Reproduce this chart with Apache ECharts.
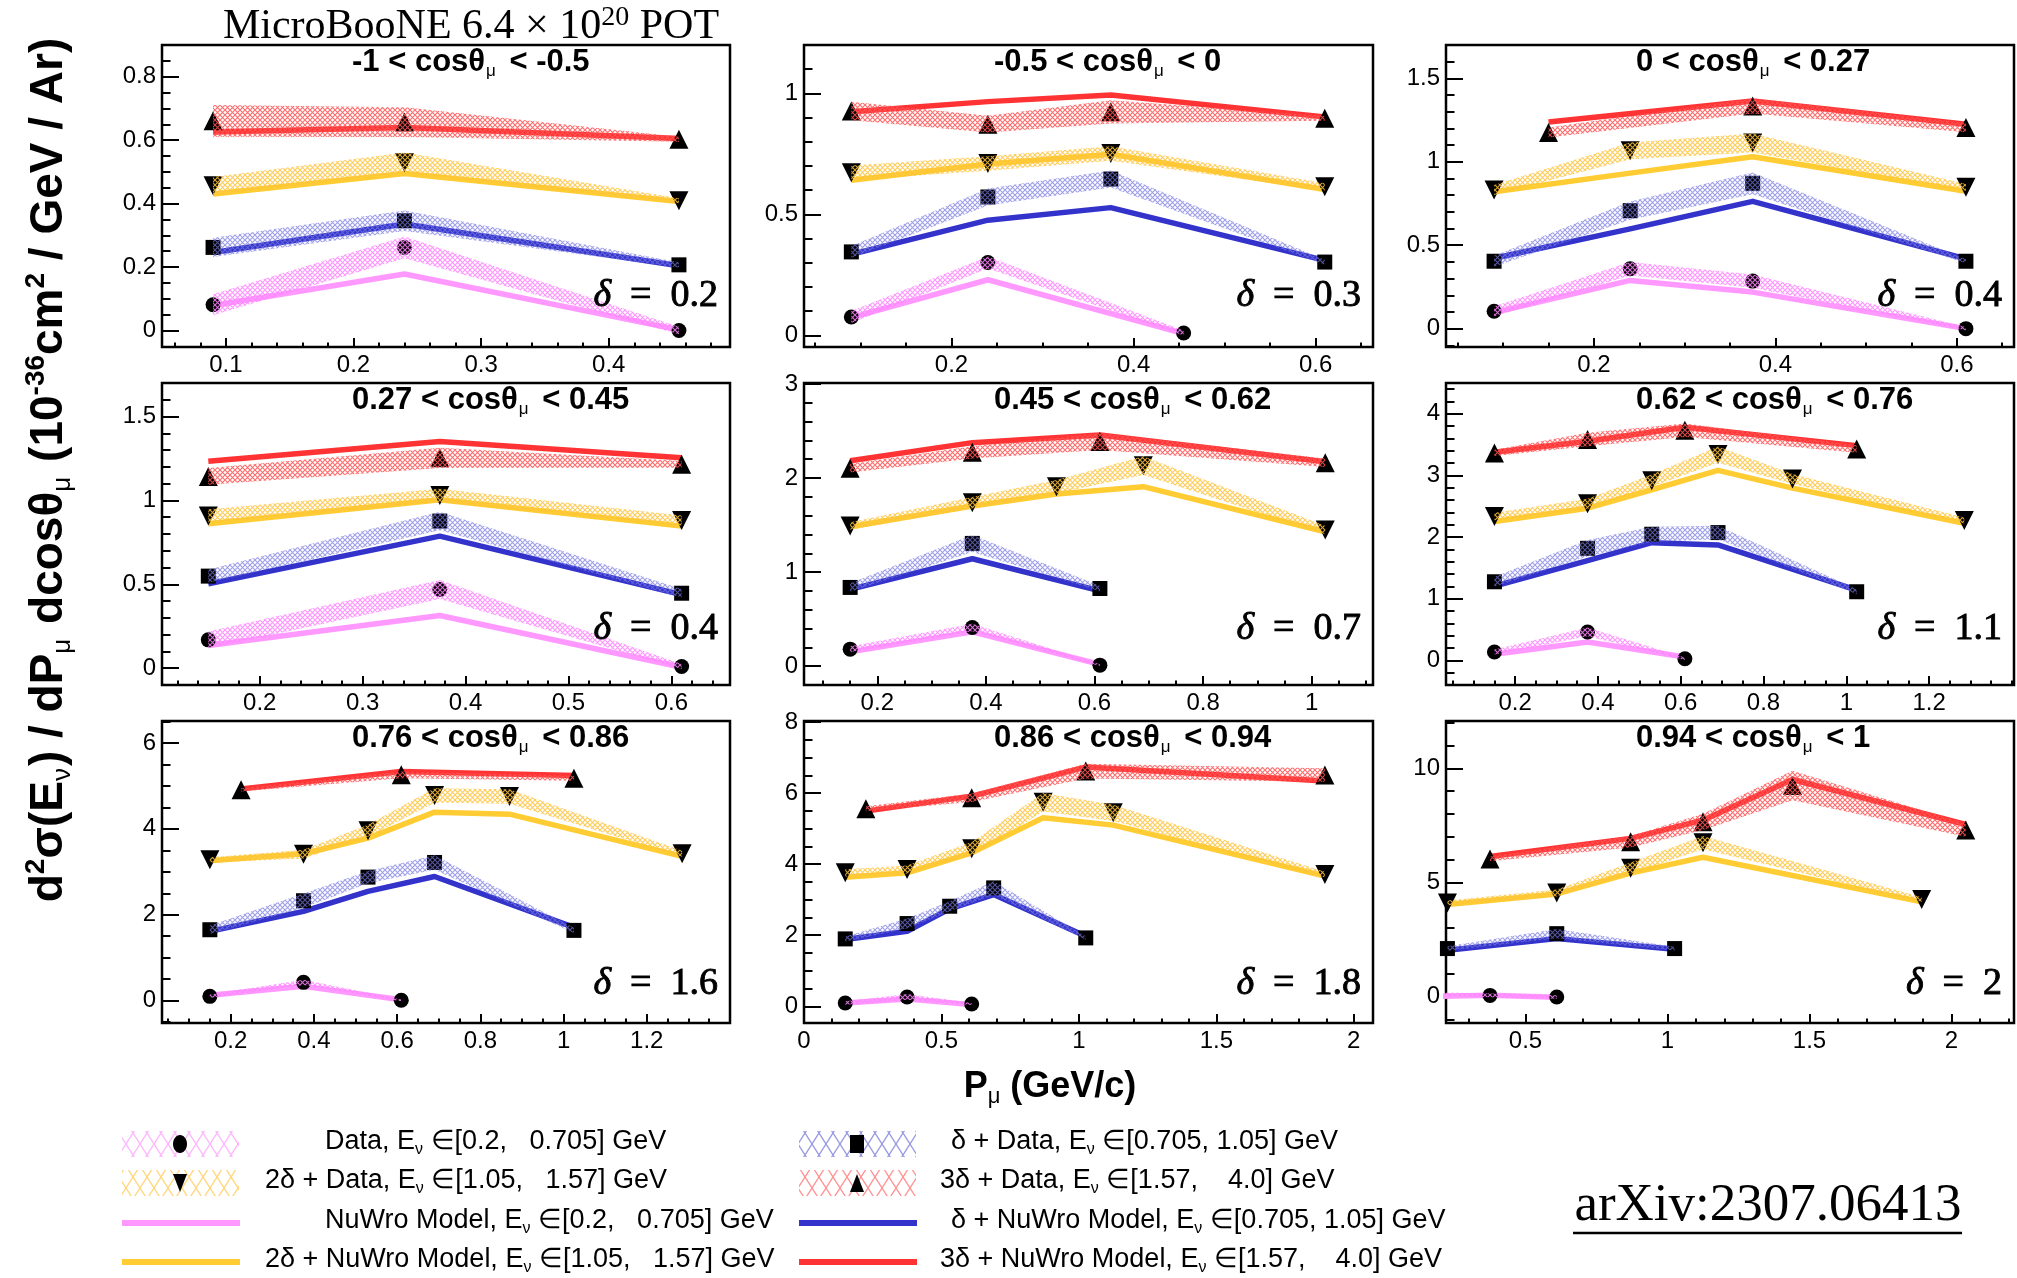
<!DOCTYPE html>
<html>
<head>
<meta charset="utf-8">
<script src="https://cdn.jsdelivr.net/npm/echarts@6/dist/echarts.min.js"></script>
<style>
  html, body { margin: 0; padding: 0; background: #fff; }
  #chart { width: 2017px; height: 1278px; }
</style>
</head>
<body>
<div id="chart"></div>
<script>
// ---------------------------------------------------------------------------
// Double-differential CC cross section in slices of cos(theta_mu),
// split by reconstructed neutrino energy. Each energy slice k is drawn
// shifted up by k * delta of its panel.
// Slices: [0.2, 0.705], [0.705, 1.05], [1.05, 1.57], [1.57, 4.0] GeV
// ---------------------------------------------------------------------------

const cosSlices = [['-1', '-0.5'], ['-0.5', '0'], ['0', '0.27'], ['0.27', '0.45'],
                   ['0.45', '0.62'], ['0.62', '0.76'], ['0.76', '0.86'], ['0.86', '0.94'], ['0.94', '1']];
const deltas = [0.2, 0.3, 0.4, 0.4, 0.7, 1.1, 1.6, 1.8, 2];
const deltaText = ['0.2', '0.3', '0.4', '0.4', '0.7', '1.1', '1.6', '1.8', '2'];

// -1 < cos < -0.5
const pmu1   = [[0.09, 0.24, 0.455], [0.09, 0.24, 0.455], [0.09, 0.24, 0.455], [0.09, 0.24, 0.455]];
const xsec1  = [[0.081, 0.262, 0.0], [0.062, 0.146, 0.007], [0.056, 0.129, 0.009], [0.061, 0.057, 0.003]];
const unc1   = [[0.033, 0.034, 0.012], [0.03, 0.032, 0.008], [0.028, 0.032, 0.008], [0.05, 0.047, 0.008]];
const nuwro1 = [[0.079, 0.178, 0.002], [0.046, 0.136, 0.004], [0.03, 0.095, 0.007], [0.026, 0.04, 0.005]];

// -0.5 < cos < 0
const pmu2   = [[0.09, 0.24, 0.455], [0.09, 0.24, 0.375, 0.61], [0.09, 0.24, 0.375, 0.61], [0.09, 0.24, 0.375, 0.61]];
const xsec2  = [[0.076, 0.301, 0.01], [0.045, 0.272, 0.346, 0.003], [0.072, 0.11, 0.152, 0.014], [0.027, -0.027, 0.024, -0.003]];
const unc2   = [[0.025, 0.025, 0.01], [0.024, 0.035, 0.035, 0.01], [0.03, 0.03, 0.03, 0.015], [0.038, 0.035, 0.048, 0.01]];
const nuwro2 = [[0.073, 0.23, 0.007], [0.035, 0.176, 0.228, 0.01], [0.041, 0.108, 0.149, 0.003], [0.024, 0.066, 0.093, 0.003]];

// 0 < cos < 0.27
const pmu3   = [[0.09, 0.24, 0.375, 0.61], [0.09, 0.24, 0.375, 0.61], [0.09, 0.24, 0.375, 0.61], [0.15, 0.375, 0.61]];
const xsec3  = [[0.104, 0.359, 0.285, 0.0], [0.004, 0.307, 0.471, 0.004], [0.031, 0.266, 0.312, 0.047], [-0.025, 0.135, 0.005]];
const unc3   = [[0.03, 0.04, 0.04, 0.01], [0.033, 0.055, 0.065, 0.012], [0.03, 0.05, 0.057, 0.02], [0.03, 0.045, 0.028]];
const nuwro3 = [[0.096, 0.289, 0.219, 0.0], [0.022, 0.198, 0.363, 0.018], [0.021, 0.132, 0.23, 0.023], [0.039, 0.165, 0.025]];

// 0.27 < cos < 0.45
const pmu4   = [[0.15, 0.375, 0.61], [0.15, 0.375, 0.61], [0.15, 0.375, 0.61], [0.15, 0.375, 0.61]];
const xsec4  = [[0.169, 0.469, 0.01], [0.149, 0.477, 0.047], [0.107, 0.23, 0.081], [-0.057, 0.054, 0.015]];
const unc4   = [[0.05, 0.057, 0.015], [0.04, 0.055, 0.025], [0.04, 0.04, 0.03], [0.05, 0.06, 0.02]];
const nuwro4 = [[0.135, 0.314, 0.006], [0.103, 0.387, 0.039], [0.061, 0.204, 0.047], [0.033, 0.152, 0.054]];

// 0.45 < cos < 0.62
const pmu5   = [[0.15, 0.375, 0.61], [0.15, 0.375, 0.61], [0.15, 0.375, 0.53, 0.69, 1.025], [0.15, 0.375, 0.61, 1.025]];
const xsec5  = [[0.181, 0.411, 0.011], [0.137, 0.605, 0.126], [0.089, 0.338, 0.508, 0.731, 0.047], [0.003, 0.173, 0.287, 0.063]];
const unc5   = [[0.03, 0.04, 0.01], [0.045, 0.09, 0.03], [0.04, 0.06, 0.07, 0.1, 0.045], [0.045, 0.065, 0.09, 0.045]];
const nuwro5 = [[0.152, 0.365, 0.02], [0.116, 0.442, 0.101], [0.082, 0.302, 0.43, 0.508, 0.029], [0.084, 0.276, 0.357, 0.074]];

// 0.62 < cos < 0.76
const pmu6   = [[0.15, 0.375, 0.61], [0.15, 0.375, 0.53, 0.69, 1.025], [0.15, 0.375, 0.53, 0.69, 0.87, 1.285], [0.15, 0.375, 0.61, 1.025]];
const xsec6  = [[0.136, 0.461, 0.027], [0.175, 0.718, 0.946, 0.973, 0.013], [0.134, 0.34, 0.715, 1.138, 0.742, 0.069], [0.065, 0.282, 0.434, 0.13]];
const unc6   = [[0.04, 0.07, 0.02], [0.08, 0.135, 0.12, 0.11, 0.04], [0.06, 0.08, 0.1, 0.13, 0.08, 0.05], [0.05, 0.11, 0.11, 0.06]];
const nuwro6 = [[0.098, 0.299, 0.054], [0.105, 0.517, 0.81, 0.772, 0.04], [0.052, 0.269, 0.568, 0.883, 0.595, 0.025], [0.076, 0.255, 0.483, 0.184]];

// 0.76 < cos < 0.86
const pmu7   = [[0.15, 0.375, 0.61], [0.15, 0.375, 0.53, 0.69, 1.025], [0.15, 0.375, 0.53, 0.69, 0.87, 1.285], [0.225, 0.61, 1.025]];
const xsec7  = [[0.101, 0.426, 0.008], [0.051, 0.726, 1.276, 1.617, 0.036], [0.079, 0.211, 0.753, 1.575, 1.552, 0.219], [0.107, 0.456, 0.378]];
const unc7   = [[0.04, 0.06, 0.02], [0.1, 0.17, 0.14, 0.17, 0.06], [0.06, 0.1, 0.14, 0.17, 0.17, 0.07], [0.04, 0.08, 0.06]];
const nuwro7 = [[0.124, 0.333, 0.023], [0.012, 0.478, 0.943, 1.291, 0.105], [0.056, 0.219, 0.583, 1.188, 1.141, 0.157], [0.13, 0.533, 0.44]];

// 0.86 < cos < 0.94
const pmu8   = [[0.15, 0.375, 0.61], [0.15, 0.375, 0.53, 0.69, 1.025], [0.15, 0.375, 0.61, 0.87, 1.125, 1.895], [0.225, 0.61, 1.025, 1.895]];
const xsec8  = [[0.094, 0.263, 0.066], [0.097, 0.529, 1.017, 1.533, 0.125], [0.156, 0.25, 0.832, 2.146, 1.846, 0.109], [0.159, 0.469, 1.22, 1.107]];
const unc8   = [[0.05, 0.08, 0.03], [0.07, 0.14, 0.14, 0.19, 0.05], [0.1, 0.11, 0.19, 0.26, 0.23, 0.08], [0.07, 0.12, 0.21, 0.19]];
const nuwro8 = [[0.094, 0.207, 0.047], [0.078, 0.313, 0.942, 1.346, 0.172], [0.034, 0.156, 0.719, 1.705, 1.499, 0.062], [0.093, 0.515, 1.332, 0.938]];

// 0.94 < cos < 1
const pmu9   = [[0.15, 0.375, 0.61], [0.225, 0.61, 1.025], [0.225, 0.61, 0.87, 1.125, 1.895], [0.375, 0.87, 1.125, 1.44, 2.05]];
const xsec9  = [[0.1, 0.05, -0.02], [0.101, 0.754, 0.101], [0.101, 0.536, 1.623, 2.739, 0.246], [0.029, 0.783, 1.652, 3.246, 1.29]];
const unc9   = [[0.08, 0.08, 0.08], [0.1, 0.2, 0.08], [0.1, 0.15, 0.25, 0.29, 0.1], [0.1, 0.25, 0.36, 0.65, 0.29]];
const nuwro9 = [[0.0, 0.06, -0.03], [0.029, 0.536, 0.072], [0.029, 0.493, 1.406, 2.101, 0.145], [0.13, 0.928, 1.725, 3.507, 1.536]];

const pmu   = [pmu1, pmu2, pmu3, pmu4, pmu5, pmu6, pmu7, pmu8, pmu9];
const xsec  = [xsec1, xsec2, xsec3, xsec4, xsec5, xsec6, xsec7, xsec8, xsec9];
const unc   = [unc1, unc2, unc3, unc4, unc5, unc6, unc7, unc8, unc9];
const nuwro = [nuwro1, nuwro2, nuwro3, nuwro4, nuwro5, nuwro6, nuwro7, nuwro8, nuwro9];

// axis extents and labelled ticks
const xRange = [[0.05, 0.495], [0.038, 0.663], [0.037, 0.663], [0.105, 0.657], [0.065, 1.113],
                [0.033, 1.405], [0.035, 1.4], [0, 2.07], [0.22, 2.22]];
const yRange = [[-0.052, 0.9], [-0.048, 1.2], [-0.11, 1.7], [-0.1, 1.7], [-0.2, 3.01],
                [-0.4, 4.5], [-0.52, 6.51], [-0.47, 8.03], [-1.16, 12.07]];
const xTickLabels = [[0.1, 0.2, 0.3, 0.4], [0.2, 0.4, 0.6], [0.2, 0.4, 0.6], [0.2, 0.3, 0.4, 0.5, 0.6],
                     [0.2, 0.4, 0.6, 0.8, 1], [0.2, 0.4, 0.6, 0.8, 1, 1.2], [0.2, 0.4, 0.6, 0.8, 1, 1.2],
                     [0, 0.5, 1, 1.5, 2], [0.5, 1, 1.5, 2]];
const yTickLabels = [[0, 0.2, 0.4, 0.6, 0.8], [0, 0.5, 1], [0, 0.5, 1, 1.5], [0, 0.5, 1, 1.5],
                     [0, 1, 2, 3], [0, 1, 2, 3, 4], [0, 2, 4, 6], [0, 2, 4, 6, 8], [0, 5, 10]];
const xMinorStep = [0.02, 0.05, 0.05, 0.02, 0.05, 0.05, 0.05, 0.1, 0.1];
const yMinorStep = [0.05, 0.1, 0.1, 0.1, 0.2, 0.2, 0.5, 0.5, 1];

const legendRows = [
  ['Data, E', ' ∈[0.2,   0.705] GeV', 'δ + Data, E', ' ∈[0.705, 1.05] GeV'],
  ['2δ + Data, E', ' ∈[1.05,   1.57] GeV', '3δ + Data, E', ' ∈[1.57,    4.0] GeV'],
  ['NuWro Model, E', ' ∈[0.2,   0.705] GeV', 'δ + NuWro Model, E', ' ∈[0.705, 1.05] GeV'],
  ['2δ + NuWro Model, E', ' ∈[1.05,   1.57] GeV', '3δ + NuWro Model, E', ' ∈[1.57,    4.0] GeV']
];

// ---------------------------------------------------------------------------
// styling
// ---------------------------------------------------------------------------
const SANS = '"Liberation Sans", Arial, Helvetica, sans-serif';
const SERIF = '"Liberation Serif", "Times New Roman", serif';
const lineColors = ['#FF99FF', '#3333CC', '#FFCC33', '#FF3333'];
const hatchColors = ['rgba(255,130,255,0.85)', 'rgba(120,120,225,0.7)', 'rgba(255,195,60,0.85)', 'rgba(255,85,85,0.85)'];
const legendHatch = ['rgba(255,150,255,0.7)', 'rgba(110,110,215,0.7)', 'rgba(255,200,80,0.75)', 'rgba(255,100,100,0.7)'];
const markerSymbol = ['circle', 'rect', 'triangle', 'triangle'];
const markerRotate = [0, 0, 180, 0];
const markerSize = [15, 15, 19, 19];

const colLeft = [162, 804, 1446];
const colWidth = [568, 569, 568];
const rowTop = [45, 383, 721];
const rowHeight = 302;
const deltaY = [296, 629, 984];

function crossHatch(color, w, h, lw) {
  const c = document.createElement('canvas');
  c.width = w; c.height = h;
  const g = c.getContext('2d');
  g.strokeStyle = color;
  g.lineWidth = lw;
  g.beginPath();
  g.moveTo(0, 0); g.lineTo(w, h);
  g.moveTo(w, 0); g.lineTo(0, h);
  g.stroke();
  return c;
}
const bandFill = hatchColors.map(c => ({ image: crossHatch(c, 5, 5, 1.15), repeat: 'repeat' }));
const legendFill = legendHatch.map(c => ({ image: crossHatch(c, 14, 22, 1.3), repeat: 'repeat' }));

function ticksBetween(lo, hi, step) {
  const out = [];
  const k0 = Math.ceil(lo / step - 1e-9), k1 = Math.floor(hi / step + 1e-9);
  for (let k = k0; k <= k1; k++) out.push(+(k * step).toFixed(6));
  return out;
}
const fmt = v => String(Math.round(v * 1e6) / 1e6);

// ---------------------------------------------------------------------------
// grids, axes, series
// ---------------------------------------------------------------------------
const grids = [], xAxes = [], yAxes = [], series = [], texts = [];

for (let p = 0; p < 9; p++) {
  const r = Math.floor(p / 3), c = p % 3;
  grids.push({
    left: colLeft[c], top: rowTop[r], width: colWidth[c], height: rowHeight,
    show: true, borderColor: '#000', borderWidth: 2.5, backgroundColor: 'transparent',
    containLabel: false, outerBoundsMode: 'none'
  });

  const common = { type: 'value', gridIndex: p, splitLine: { show: false }, minorTick: { show: false },
                   axisLine: { show: false, onZero: false } };
  xAxes.push(Object.assign({}, common, {
    position: 'bottom', min: xRange[p][0], max: xRange[p][1],
    axisTick: { show: true, inside: true, length: 9, customValues: xTickLabels[p], lineStyle: { color: '#000', width: 2 } },
    axisLabel: { show: true, customValues: xTickLabels[p], margin: 6, formatter: fmt,
                 fontSize: 24, fontFamily: SANS, color: '#000' }
  }));
  xAxes.push(Object.assign({}, common, {
    position: 'bottom', min: xRange[p][0], max: xRange[p][1],
    axisTick: { show: true, inside: true, length: 4.5,
                customValues: ticksBetween(xRange[p][0], xRange[p][1], xMinorStep[p]),
                lineStyle: { color: '#000', width: 2 } },
    axisLabel: { show: false }
  }));
  yAxes.push(Object.assign({}, common, {
    position: 'left', min: yRange[p][0], max: yRange[p][1],
    axisTick: { show: true, inside: true, length: 17, customValues: yTickLabels[p], lineStyle: { color: '#000', width: 2 } },
    axisLabel: { show: true, customValues: yTickLabels[p], margin: 6, formatter: fmt,
                 fontSize: 24, fontFamily: SANS, color: '#000' }
  }));
  yAxes.push(Object.assign({}, common, {
    position: 'left', min: yRange[p][0], max: yRange[p][1],
    axisTick: { show: true, inside: true, length: 8.5,
                customValues: ticksBetween(yRange[p][0], yRange[p][1], yMinorStep[p]),
                lineStyle: { color: '#000', width: 2 } },
    axisLabel: { show: false }
  }));

  const xi = 2 * p, yi = 2 * p;
  for (let g = 0; g < 4; g++) {
    const off = g * deltas[p];
    const xs = pmu[p][g], d = xsec[p][g], e = unc[p][g], m = nuwro[p][g];

    series.push({
      type: 'line', xAxisIndex: xi, yAxisIndex: yi, z: 2, clip: true,
      symbol: 'none', silent: true,
      lineStyle: { color: lineColors[g], width: 5.5, cap: 'butt', join: 'round' },
      data: xs.map((x, i) => [x, m[i] + off])
    });
    series.push({
      type: 'scatter', xAxisIndex: xi, yAxisIndex: yi, z: 3, clip: true, silent: true,
      symbol: markerSymbol[g], symbolRotate: markerRotate[g], symbolSize: markerSize[g],
      itemStyle: { color: '#000', opacity: 1 },
      data: xs.map((x, i) => [x, d[i] + off])
    });
    const fill = bandFill[g];
    const n = xs.length;
    series.push({
      type: 'custom', coordinateSystem: 'cartesian2d', xAxisIndex: xi, yAxisIndex: yi, z: 4,
      clip: true, silent: true,
      encode: { x: 0, y: [1, 2] },
      data: xs.map((x, i) => [x, d[i] + off - e[i], d[i] + off + e[i]]),
      renderItem: function (params, api) {
        if (params.dataIndexInside !== 0) return null;
        const upper = [], lower = [];
        for (let i = 0; i < n; i++) {
          upper.push(api.coord([api.value(0, i), api.value(2, i)]));
          lower.unshift(api.coord([api.value(0, i), api.value(1, i)]));
        }
        const pts = echarts.graphic.clipPointsByRect(upper.concat(lower), params.coordSys);
        return { type: 'polygon', shape: { points: pts }, style: { fill: fill, stroke: null } };
      }
    });
  }

  // slice title and offset
  texts.push({
    type: 'text', x: colLeft[c] + 190, y: rowTop[r] + 17, z: 100,
    style: {
      text: '{b|' + cosSlices[p][0] + ' < cosθ}{s|μ}{b| < ' + cosSlices[p][1] + '}',
      align: 'left', verticalAlign: 'middle', fill: '#000',
      rich: {
        b: { fontSize: 31, fontWeight: 'bold', fontFamily: SANS, lineHeight: 36, fill: '#000' },
        s: { fontSize: 17, fontFamily: SANS, lineHeight: 17, verticalAlign: 'bottom', fill: '#000', padding: [0, 5, 0, 1] }
      }
    }
  });
  texts.push({
    type: 'text', x: colLeft[c] + colWidth[c] - 12, y: deltaY[r], z: 100,
    style: {
      text: '{i|δ}{n|  =  ' + deltaText[p] + '}',
      align: 'right', verticalAlign: 'middle', fill: '#000',
      rich: {
        i: { fontSize: 38, fontStyle: 'italic', fontFamily: SERIF, fill: '#000', stroke: '#000', lineWidth: 0.9 },
        n: { fontSize: 38, fontFamily: SERIF, fill: '#000', stroke: '#000', lineWidth: 0.9 }
      }
    }
  });
}

// ---------------------------------------------------------------------------
// headers, axis titles, legend
// ---------------------------------------------------------------------------
texts.push({
  type: 'text', x: 471, y: 27, z: 100,
  style: {
    text: '{n|MicroBooNE 6.4 × 10}{s|20}{n| POT}', align: 'center', verticalAlign: 'middle', fill: '#000',
    rich: {
      n: { fontSize: 42, fontFamily: SERIF, lineHeight: 46, fill: '#000' },
      s: { fontSize: 28, fontFamily: SERIF, lineHeight: 28, verticalAlign: 'top', fill: '#000' }
    }
  }
});

texts.push({
  type: 'text', x: 49, y: 470, rotation: Math.PI / 2, z: 100,
  style: {
    text: '{b|d}{sp|2}{b|σ(E}{sb|ν}{b|) / dP}{sb|μ}{b| dcosθ}{sb|μ}{b| (10}{sp|-36}{b|cm}{sp|2}{b| / GeV / Ar)}',
    align: 'center', verticalAlign: 'middle', fill: '#000',
    rich: {
      b: { fontSize: 46, fontWeight: 'bold', fontFamily: SANS, lineHeight: 54, fill: '#000' },
      sp: { fontSize: 28, fontWeight: 'bold', fontFamily: SANS, lineHeight: 30, verticalAlign: 'top', fill: '#000' },
      sb: { fontSize: 26, fontFamily: SANS, lineHeight: 26, verticalAlign: 'bottom', fill: '#000', padding: [0, 2, 0, 0] }
    }
  }
});

texts.push({
  type: 'text', x: 1050, y: 1087, z: 100,
  style: {
    text: '{b|P}{sb|μ}{b| (GeV/c)}', align: 'center', verticalAlign: 'middle', fill: '#000',
    rich: {
      b: { fontSize: 36, fontWeight: 'bold', fontFamily: SANS, lineHeight: 42, fill: '#000' },
      sb: { fontSize: 22, fontFamily: SANS, lineHeight: 22, verticalAlign: 'bottom', fill: '#000' }
    }
  }
});

texts.push({
  type: 'text', x: 1768, y: 1206, z: 100,
  style: { text: 'arXiv:2307.06413', align: 'center', verticalAlign: 'middle',
           fontSize: 53, fontFamily: SERIF, fill: '#000' }
});
texts.push({ type: 'line', z: 100, shape: { x1: 1573, y1: 1233, x2: 1962, y2: 1233 },
             style: { stroke: '#000', lineWidth: 2.5 } });

const legendY = [1144, 1183, 1223, 1262];
const legendBoxX = [122, 799];
const legendTextX = [[325, 951], [265, 940], [325, 951], [265, 940]];

function legendMarker(g, cx, cy) {
  const s = 9;
  if (g === 0) return { type: 'ellipse', z: 101, shape: { cx, cy, rx: 7, ry: 9 }, style: { fill: '#000' } };
  if (g === 1) return { type: 'rect', z: 101, shape: { x: cx - 7, y: cy - 9, width: 14, height: 18 }, style: { fill: '#000' } };
  if (g === 2) return { type: 'polygon', z: 101, shape: { points: [[cx - 7, cy - s], [cx + 7, cy - s], [cx, cy + s]] }, style: { fill: '#000' } };
  return { type: 'polygon', z: 101, shape: { points: [[cx - 7, cy + s], [cx + 7, cy + s], [cx, cy - s]] }, style: { fill: '#000' } };
}

for (let row = 0; row < 4; row++) {
  for (let col = 0; col < 2; col++) {
    const g = (row % 2) * 2 + col;          // pink, blue / yellow, red
    const y = legendY[row], x0 = legendBoxX[col];
    if (row < 2) {
      texts.push({ type: 'rect', z: 100, shape: { x: x0, y: y - 13, width: 117, height: 26 }, style: { fill: legendFill[g] } });
      texts.push(legendMarker(g, x0 + 58, y));
    } else {
      texts.push({ type: 'line', z: 100, shape: { x1: x0, y1: y, x2: x0 + 118, y2: y },
                   style: { stroke: lineColors[g], lineWidth: 6 } });
    }
    const t = legendRows[row];
    texts.push({
      type: 'text', x: legendTextX[row][col], y: y - 2, z: 100,
      style: {
        text: '{t|' + t[col * 2] + '}{s|ν}{t|' + t[col * 2 + 1] + '}',
        align: 'left', verticalAlign: 'middle', fill: '#000',
        rich: {
          t: { fontSize: 27, fontFamily: SANS, lineHeight: 32, fill: '#000' },
          s: { fontSize: 16, fontFamily: SANS, lineHeight: 16, verticalAlign: 'bottom', fill: '#000' }
        }
      }
    });
  }
}

const chart = echarts.init(document.getElementById('chart'), null, { renderer: 'canvas' });
chart.setOption({
  animation: false,
  backgroundColor: '#ffffff',
  grid: grids,
  xAxis: xAxes,
  yAxis: yAxes,
  series: series,
  graphic: { elements: texts }
});
</script>
</body>
</html>
